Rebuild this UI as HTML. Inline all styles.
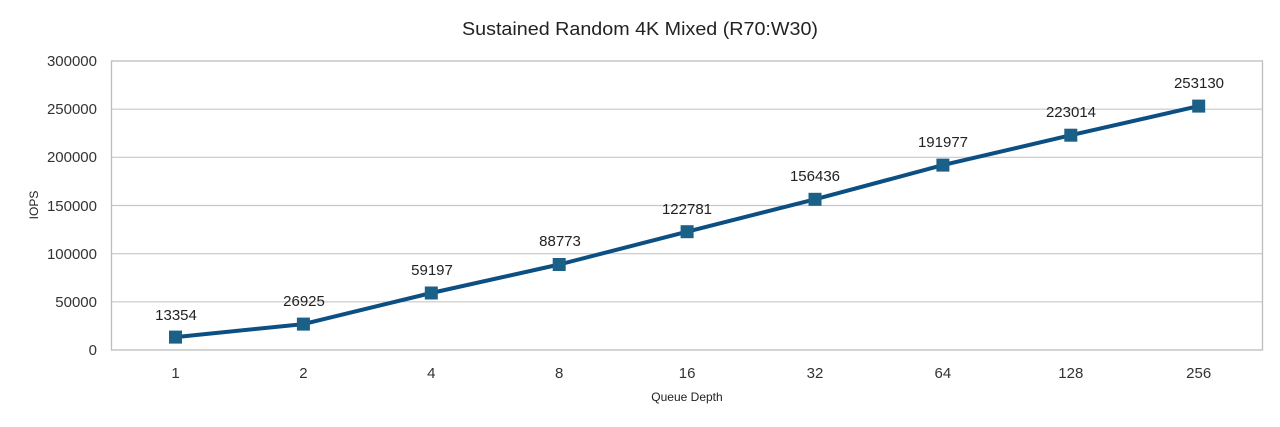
<!DOCTYPE html>
<html><head><meta charset="utf-8"><style>
html,body{margin:0;padding:0;background:#fff;}
svg{display:block;}
text{font-family:"Liberation Sans",sans-serif;}
</style></head><body>
<svg width="1280" height="427" viewBox="0 0 1280 427" xmlns="http://www.w3.org/2000/svg">
<rect width="1280" height="427" fill="#fff"/>
<text x="640" y="35" font-size="18" fill="#222" text-anchor="middle" textLength="356" lengthAdjust="spacingAndGlyphs">Sustained Random 4K Mixed (R70:W30)</text>
<g stroke="#c8c8c8" stroke-width="1.2">
<line x1="111.5" y1="109.2" x2="1262.5" y2="109.2"/>
<line x1="111.5" y1="157.3" x2="1262.5" y2="157.3"/>
<line x1="111.5" y1="205.5" x2="1262.5" y2="205.5"/>
<line x1="111.5" y1="253.7" x2="1262.5" y2="253.7"/>
<line x1="111.5" y1="301.8" x2="1262.5" y2="301.8"/>
</g>
<rect x="111.5" y="61" width="1151" height="289" fill="none" stroke="#bdbdbd" stroke-width="1.3"/>
<g font-size="15" fill="#333" text-anchor="end">
<text x="97" y="66">300000</text>
<text x="97" y="114">250000</text>
<text x="97" y="162">200000</text>
<text x="97" y="211">150000</text>
<text x="97" y="259">100000</text>
<text x="97" y="307">50000</text>
<text x="97" y="355">0</text>
</g>
<text transform="translate(38,205) rotate(-90)" font-size="12" fill="#222" text-anchor="middle">IOPS</text>
<g font-size="15" fill="#333" text-anchor="middle">
<text x="175.5" y="378">1</text>
<text x="303.4" y="378">2</text>
<text x="431.3" y="378">4</text>
<text x="559.2" y="378">8</text>
<text x="687.1" y="378">16</text>
<text x="815" y="378">32</text>
<text x="942.9" y="378">64</text>
<text x="1070.8" y="378">128</text>
<text x="1198.7" y="378">256</text>
</g>
<text x="687" y="401" font-size="12" fill="#222" text-anchor="middle">Queue Depth</text>
<polyline fill="none" stroke="#0c4f82" stroke-width="4" stroke-linejoin="round"
points="175.5,337.1 303.4,324.1 431.3,293.0 559.2,264.5 687.1,231.7 815,199.3 942.9,165.1 1070.8,135.2 1198.7,106.1"/>
<g fill="#1b6087">
<rect x="169" y="330.6" width="13" height="13"/>
<rect x="296.9" y="317.6" width="13" height="13"/>
<rect x="424.8" y="286.5" width="13" height="13"/>
<rect x="552.7" y="258" width="13" height="13"/>
<rect x="680.6" y="225.2" width="13" height="13"/>
<rect x="808.5" y="192.8" width="13" height="13"/>
<rect x="936.4" y="158.6" width="13" height="13"/>
<rect x="1064.3" y="128.7" width="13" height="13"/>
<rect x="1192.2" y="99.6" width="13" height="13"/>
</g>
<g font-size="15" fill="#222" text-anchor="middle">
<text x="176" y="320">13354</text>
<text x="304" y="306">26925</text>
<text x="432" y="275">59197</text>
<text x="560" y="246">88773</text>
<text x="687" y="214">122781</text>
<text x="815" y="181">156436</text>
<text x="943" y="147">191977</text>
<text x="1071" y="117">223014</text>
<text x="1199" y="88">253130</text>
</g>
</svg>
</body></html>
